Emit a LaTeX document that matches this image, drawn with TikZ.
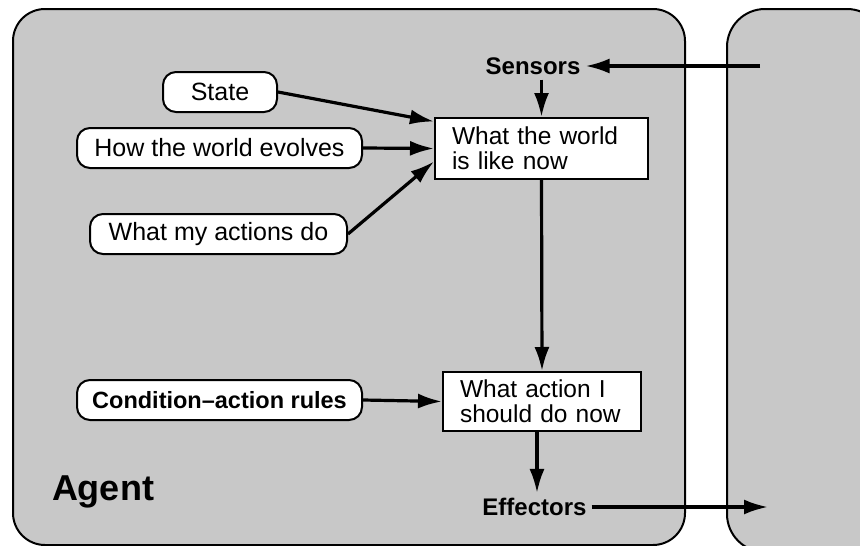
\documentclass[tikz,border=0pt]{standalone}
\usepackage{fontspec}
\setmainfont{Liberation Sans}
\usetikzlibrary{arrows.meta}
\definecolor{panel}{RGB}{200,200,200}
\tikzset{
  panelbox/.style={draw=black, line width=2pt, fill=panel, rounded corners=32pt},
  pill/.style={draw=black, line width=2pt, fill=white, rounded corners=13pt,
    minimum height=40pt, inner sep=0pt, font=\fontsize{25}{26}\selectfont},
  stepbox/.style={draw=black, line width=2pt, fill=white, align=left,
    inner xsep=17pt, inner ysep=0pt, font=\fontsize{24.5}{25}\selectfont},
  port/.style={font=\bfseries\fontsize{24}{25}\selectfont, inner sep=5pt},
  flow/.style={line width=3.2pt, -{Latex[length=24pt,width=15pt]}},
}
\begin{document}
\begin{tikzpicture}[x=1pt,y=-1pt]
  \useasboundingbox (0,0) rectangle (860,546);
  \fill[white] (0,0) rectangle (860,546);
  \clip (0,0) rectangle (860,546);

  % agent and environment panels
  \draw[panelbox] (13,9) rectangle (685,545);
  \draw[panelbox, rounded corners=38pt] (727,9) rectangle (885,552);

  % knowledge held by the agent
  \node[pill, minimum width=114pt] (state) at (220,92) {State};
  \node[pill, minimum width=285pt] (how) at (219.5,148) {How the world evolves};
  \node[pill, minimum width=257pt] (acts) at (218.5,234) {What my actions do};
  \node[pill, minimum width=285pt, font=\bfseries\fontsize{23.5}{25}\selectfont]
    (cond) at (219.5,400) {Condition--action rules};

  % internal steps
  \node[stepbox, text width=179pt, minimum height=61pt] (world) at (541.5,148.5)
    {What the world\\is like now};
  \node[stepbox, text width=164pt, minimum height=59pt] (action) at (542,401.5)
    {What action I\\should do now};

  % sensors, effectors and label
  \node[port] (sensors) at (533,66) {Sensors};
  \node[port] (effectors) at (534.5,507) {Effectors};
  \node[font=\bfseries\fontsize{36}{38}\selectfont, inner sep=0pt] (agent) at (103,492) {Agent};

  \coordinate (percept) at (760,66);
  \coordinate (act) at (768,507);

  % connectors
  \draw[flow] (percept) -- (sensors.east);
  \draw[flow] (sensors.south -| world.north) -- (world.north);
  \draw[flow] (state.east) -- ([yshift=27pt]world.west);
  \draw[flow] (how.east) -- (world.west);
  \draw[flow] (acts.east) -- ([yshift=-13pt]world.west);
  \draw[flow] (world.south) -- (action.north);
  \draw[flow] (cond.east) -- (action.west);
  \draw[flow] ([xshift=-5pt]action.south) -- ([xshift=-5pt]action.south |- effectors.north);
  \draw[flow] (effectors.east) -- (act);
\end{tikzpicture}
\end{document}
